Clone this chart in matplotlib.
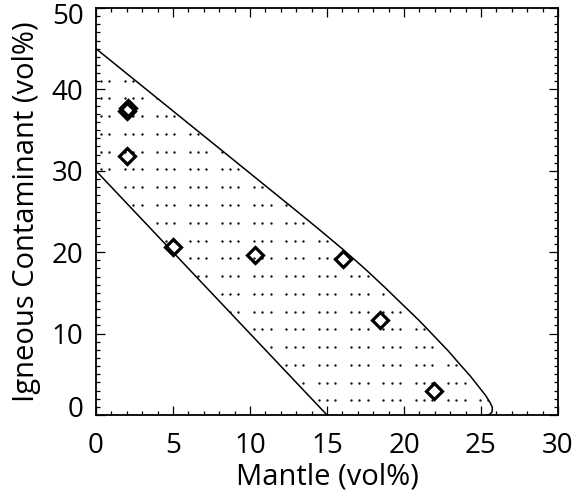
import numpy as np
import matplotlib
matplotlib.use("Agg")
import matplotlib.pyplot as plt
from matplotlib.path import Path
from matplotlib.patches import PathPatch
from matplotlib.transforms import ScaledTranslation
from matplotlib.ticker import MultipleLocator

plt.rcParams['font.family'] = ['Open Sans', 'DejaVu Sans']

# ---- data ----
mantle = [2.0, 2.06, 2.0, 5.02, 10.32, 16.02, 18.44, 21.95]
igneous = [37.35, 37.75, 31.8, 20.65, 19.7, 19.2, 11.7, 2.94]

upper_x = [0.0, 5.0, 10.0, 13.0, 14.55, 16.0, 17.5, 18.8, 20.0, 21.04, 22.0,
           22.86, 23.64, 24.3, 24.8, 25.3, 25.6, 25.74, 25.72, 25.6, 25.37]
upper_y = [45.0, 37.35, 29.7, 25.1, 22.7, 20.4, 17.9, 15.6, 13.4, 11.5, 9.6,
           7.9, 6.2, 4.8, 3.6, 2.4, 1.5, 0.9, 0.4, 0.1, 0.0]
lower_x = [0.0, 15.0]
lower_y = [30.0, 0.0]

xticks = [0, 5, 10, 15, 20, 25, 30]
yticks = [0, 10, 20, 30, 40, 50]

fig = plt.figure(figsize=(5.74, 4.98), dpi=100)
ax = fig.add_axes([96/574, 83/498, 462/574, 407/498])
ax.set_xlim(0, 30)
ax.set_ylim(0, 50)

# region outline
ax.plot(upper_x, upper_y, color='black', lw=1.1, zorder=3, solid_joinstyle='round')
ax.plot(lower_x, lower_y, color='black', lw=1.1, zorder=3)

# stipple texture inside the region (groups of three dots)
poly = list(zip(upper_x, upper_y)) + list(zip(lower_x[::-1], lower_y[::-1]))
poly.append(poly[0])
path = Path(poly, closed=True)
clip = PathPatch(path, transform=ax.transData, facecolor='none', edgecolor='none')
ax.add_patch(clip)
row_y = 41.07 - 2.182 * np.arange(0, 19)
grp_x = 1.88 + 2.097 * np.arange(-1, 13)
dx, dy = [], []
for yy in row_y:
    for gx in grp_x:
        for off in (0.0, 0.54, 1.08):
            dx.append(gx + off)
            dy.append(yy)
dx = np.array(dx); dy = np.array(dy)
inside = path.contains_points(np.column_stack([dx, dy]))
sc = ax.scatter(dx[inside], dy[inside], s=3.0, color='#111111', linewidths=0, zorder=2)
sc.set_clip_path(clip)

# data markers
ax.plot(mantle, igneous, linestyle='none', marker='D', markersize=8.4,
        markerfacecolor='none', markeredgecolor='black', markeredgewidth=2.3,
        zorder=4)

# axes styling
ax.set_xticks(xticks)
ax.set_yticks(yticks)
ax.xaxis.set_minor_locator(MultipleLocator(1))
ax.yaxis.set_minor_locator(MultipleLocator(1))
ax.tick_params(which='both', direction='in', top=True, right=True, width=0.9,
               labelsize=20, colors='black')
ax.tick_params(which='major', length=6.5)
ax.tick_params(which='minor', length=3.2)
ax.tick_params(axis='x', pad=12)
ax.tick_params(axis='y', pad=9)
for s in ax.spines.values():
    s.set_linewidth(1.3)

ax.set_xlabel('Mantle (vol%)', fontsize=21, labelpad=2)
ax.set_ylabel('Igneous Contaminant (vol%)', fontsize=21, labelpad=8)

ylabels = ax.get_yticklabels()
ylabels[0].set_transform(ylabels[0].get_transform() + ScaledTranslation(0, 9/100, fig.dpi_scale_trans))
ylabels[-1].set_transform(ylabels[-1].get_transform() + ScaledTranslation(0, -5/100, fig.dpi_scale_trans))

fig.savefig('out.png', dpi=100)
